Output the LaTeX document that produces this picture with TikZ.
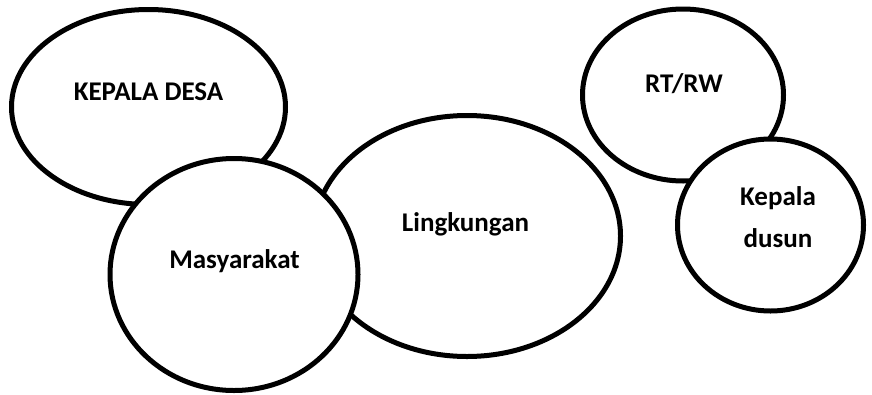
\documentclass[tikz,border=0pt]{standalone}
\usepackage{fontspec}
\setmainfont{Carlito}
\usetikzlibrary{shapes.geometric}
\tikzset{
  bubble/.style={draw, ellipse, fill=white, line width=5pt, inner sep=0pt},
  lbl/.style={font=\fontsize{27}{42}\selectfont\bfseries, anchor=base, inner sep=0pt, align=center}
}
\begin{document}
\begin{tikzpicture}[x=1pt,y=-1pt, line join=round, line cap=round]
	%%Khung hinh
	\useasboundingbox (0,0) rectangle (872,394);
	%%Cac hinh elip (ve theo thu tu chong len nhau)
	\node[bubble, minimum width=274, minimum height=195] (desa) at (148.5,107) {};
	\node[bubble, minimum width=307, minimum height=241] (lingkungan) at (467,236) {};
	\node[bubble, minimum width=248, minimum height=232] (masyarakat) at (234,274.5) {};
	\node[bubble, minimum width=201, minimum height=172] (rtrw) at (683,95) {};
	\node[bubble, minimum width=186, minimum height=172] (dusun) at (770.5,225) {};
	%%Chu
	\node[lbl] (desatxt) at (148.5,100) {KEPALA DESA};
	\node[lbl] (lingkungantxt) at (465.5,231) {Lingkungan};
	\node[lbl] (masyarakattxt) at (234.5,268) {Masyarakat};
	\node[lbl] (rtrwtxt) at (684,92) {RT/RW};
	\node[lbl] (dusuntxt) at (778,247) {Kepala\\dusun};
\end{tikzpicture}
\end{document}
